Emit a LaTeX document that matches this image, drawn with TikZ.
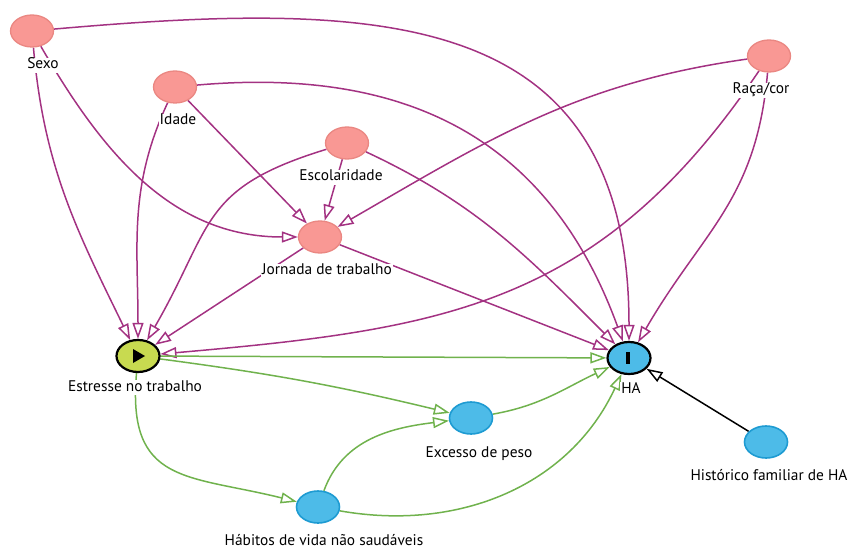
\documentclass[tikz,border=0pt]{standalone}
\usepackage{fontspec}
\setmainfont{PT Sans}
\usepackage{tikz}
\usetikzlibrary{arrows.meta,shapes.geometric,backgrounds}
\definecolor{magline}{RGB}{163,50,130}
\definecolor{grnline}{RGB}{112,178,77}
\definecolor{pinkfill}{RGB}{249,152,148}
\definecolor{pinkdraw}{RGB}{234,135,130}
\definecolor{bluefill}{RGB}{77,187,232}
\definecolor{bluedraw}{RGB}{30,155,210}
\definecolor{yelfill}{RGB}{200,218,80}

\begin{document}
\begin{tikzpicture}[x=1pt,y=1pt]
\tikzstyle{main}=[ellipse, minimum width=43pt, minimum height=32pt, inner sep=0pt, line width=1.3pt]
\tikzstyle{anc}=[main, fill=pinkfill, draw=pinkdraw]
\tikzstyle{med}=[main, fill=bluefill, draw=bluedraw, line width=1.6pt]
\tikzstyle{key}=[main, draw=black, line width=2.2pt]
\tikzstyle{every label}=[fill=white, inner sep=1pt, text height=10pt, text depth=3pt, yshift=-10pt, font=\fontsize{15.4}{17}\selectfont]
\tikzstyle{connect}=[-{Triangle[open,length=16pt,width=11pt]}, line width=1.5pt]
\tikzstyle{biasing}=[connect, draw=magline]
\tikzstyle{causal}=[connect, draw=grnline]
\useasboundingbox (0,0) rectangle (850,-553);
  \node[anc] (sexo) at (32,-31) [label={[xshift=11pt]below:Sexo}] {};
  \node[anc] (idade) at (175,-87) [label={[xshift=3pt]below:Idade}] {};
  \node[anc] (escol) at (347,-143) [label={[xshift=-6pt]below:Escolaridade}] {};
  \node[anc] (jornada) at (320,-237) [label={[xshift=7pt]below:Jornada de trabalho}] {};
  \node[anc] (raca) at (769,-56) [label={[xshift=-8pt]below:Raça/cor}] {};
  \node[key, fill=yelfill] (estresse) at (138,-356) [label={[xshift=-3pt, yshift=3pt]below:Estresse no trabalho}] {};
  \node[key, fill=bluefill] (ha) at (629,-358) [label={[xshift=2pt, yshift=3pt]below:HA}] {};
  \node[med] (excesso) at (471,-418) [label={[xshift=8pt, yshift=-1pt]below:Excesso de peso}] {};
  \node[med] (habitos) at (318,-507) [label={[xshift=6pt]below:Hábitos de vida não saudáveis}] {};
  \node[med] (historico) at (766,-442) [label={[xshift=3pt]below:Histórico familiar de HA}] {};
  \fill ([shift={(-5,7)}]estresse.center) -- ++(12,-7) -- ++(-12,-7) -- cycle;
  \fill ([shift={(-3.5,-6)}]ha.center) rectangle ++(4,12);
\begin{scope}[on background layer]
  \path (sexo) edge [biasing, out=5, in=90, looseness=1.3] (ha)
        (sexo) edge [biasing, out=-85, in=116] (estresse)
        (sexo) edge [biasing, out=-60, in=180] (jornada)
        (idade) edge [biasing, out=5, in=110, looseness=1.1] (ha)
        (idade) edge [biasing, out=-115, in=90] (estresse)
        (idade) edge [biasing] (jornada)
        (escol) edge [biasing, out=-25, in=135] (ha)
        (escol) edge [biasing, out=197, in=60, looseness=1.3] (estresse)
        (escol) edge [biasing] (jornada)
        (raca) edge [biasing, out=-95, in=60, looseness=1.1] (ha)
        (raca) edge [biasing, out=188, in=30] (jornada)
        (raca) edge [biasing, out=236, in=5, looseness=1.1] (estresse)
        (jornada) edge [biasing] (ha)
        (jornada) edge [biasing] (estresse);
  \path (estresse) edge [causal] (ha)
        (estresse) edge [causal, bend left=3] (excesso)
        (estresse) edge [causal, out=-95, in=166, looseness=1.4] (habitos)
        (habitos) edge [causal, out=70, in=187] (excesso)
        (habitos) edge [causal, out=-10, in=-115] (ha)
        (excesso) edge [causal, out=10, in=205] (ha);
  \path (historico) edge [connect, draw=black] (ha);
\end{scope}
\end{tikzpicture}
\end{document}
